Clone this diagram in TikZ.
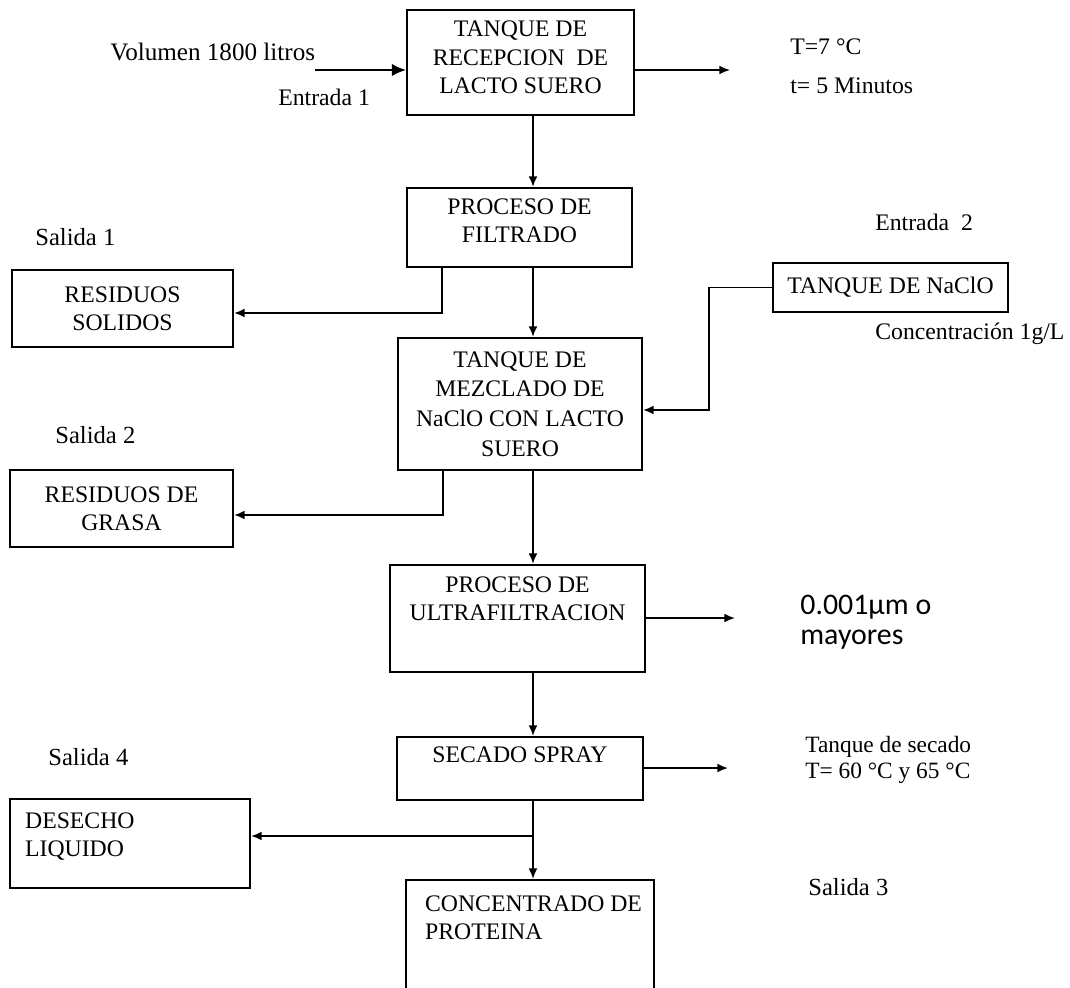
\documentclass[tikz,border=0pt]{standalone}
\usepackage{fontspec}
\setmainfont{Liberation Serif}
\newfontfamily\calib{Carlito}
\usepackage{tikz}
\usetikzlibrary{arrows.meta,positioning}
\def\pu{0.2mm}

\tikzset{
  box/.style={draw, line width=1.2pt, inner sep=2pt, align=center},
  txt/.style={font=\fontsize{13.5}{16}\selectfont, align=center},
  free/.style={font=\fontsize{13.5}{16}\selectfont, anchor=west, inner sep=0pt},
  arr/.style={line width=1pt, -{Latex[length=6pt,width=5pt]}},
  line/.style={line width=1pt}
}

\begin{document}
\begin{tikzpicture}[x=\pu, y=-\pu]
      \clip (0,0) rectangle (1070,987);
      \fill[white] (0,0) rectangle (1070,987);
      % cajas del proceso
      \node[box, txt, minimum width=227*\pu, minimum height=105*\pu, text depth=6pt] (rec) at (520.5,62.5) {TANQUE DE\\RECEPCION\ \ DE\\LACTO SUERO};
      \node[box, txt, minimum width=225*\pu, minimum height=79*\pu, text depth=8pt] (fil) at (519.5,227.5) {PROCESO DE\\FILTRADO};
      \node[box, txt, minimum width=221*\pu, minimum height=77*\pu] (sol) at (122.5,308.5) {RESIDUOS\\SOLIDOS};
      \node[box, txt, minimum width=244*\pu, minimum height=132*\pu, font=\fontsize{13.5}{16.8}\selectfont] (mez) at (520,404) {TANQUE DE\\MEZCLADO DE\\NaClO CON LACTO\\SUERO};
      \node[box, txt, minimum width=235*\pu, minimum height=49*\pu] (nacl) at (890.5,287.5) {TANQUE DE NaClO};
      \node[box, txt, minimum width=223*\pu, minimum height=77*\pu] (gra) at (121.5,508.5) {RESIDUOS DE\\GRASA};
      \node[box, minimum width=255*\pu, minimum height=107*\pu] (ultra) at (517.5,618.5) {};
      \node[box, minimum width=246*\pu, minimum height=63*\pu] (spray) at (520,768.5) {};
      \node[box, minimum width=240*\pu, minimum height=89*\pu] (liq) at (130,843.5) {};
      \node[box, minimum width=248*\pu, minimum height=120*\pu] (prot) at (530,940) {};
      \node[txt, anchor=north, yshift=-7*\pu] (ultraT) at (ultra.north) {PROCESO DE\\ULTRAFILTRACION};
      \node[txt, anchor=north, yshift=-5*\pu] (sprayT) at (spray.north) {SECADO SPRAY};
      \node[txt, align=left, anchor=north west, xshift=10*\pu, yshift=-9*\pu] (liqT) at (liq.north west) {DESECHO\\LIQUIDO};
      \node[txt, align=left, anchor=north west, xshift=14*\pu, yshift=-11*\pu] (protT) at (prot.north west) {CONCENTRADO DE\\PROTEINA};

      % textos sueltos
      \node[free, font=\fontsize{14.3}{16}\selectfont] (vol) at (110,52) {Volumen 1800 litros};
      \node[free] (ent1) at (278,97) {Entrada 1};
      \node[free] (temp1) at (790,47) {T=7 °C};
      \node[free] (time1) at (790,86) {t= 5 Minutos};
      \node[free, font=\fontsize{14}{16}\selectfont] (sal1) at (35,237) {Salida 1};
      \node[free] (ent2) at (875,222) {Entrada\ \ 2};
      \node[free] (conc) at (875,334) {Concentración 1g/L};
      \node[free, font=\fontsize{14}{16}\selectfont] (sal2) at (55,435) {Salida 2};
      \node[free, font=\calib\fontsize{17}{17}\selectfont, align=left] (poro) at (800,622) {0.001µm o\\mayores};
      \node[free, font=\fontsize{13.3}{14.5}\selectfont, align=left] (sec) at (805,760) {Tanque de secado\\T= 60 °C y 65 °C};
      \node[free, font=\fontsize{14}{16}\selectfont] (sal4) at (48,757) {Salida 4};
      \node[free, font=\fontsize{14}{16}\selectfont] (sal3) at (808,887) {Salida 3};

      % puntos de apoyo
      \coordinate (ax) at (533,0);
      \coordinate (in1) at (315,70);
      \coordinate (out1) at (730,70);
      \coordinate (out2) at (735,618);
      \coordinate (out3) at (728,768);
      \coordinate (br1) at (442,313);
      \coordinate (br2) at (443,515);
      \coordinate (jn) at (709,410);
      \coordinate (br4) at (533,836);

      % flechas
      \draw[line width=1pt, -{Latex[length=8pt,width=7pt]}] (in1) -- (in1 -| rec.west);
      \draw[arr] (out1 -| rec.east) -- (out1);
      \draw[arr] (ax |- rec.south) -- (ax |- fil.north);
      \draw[arr] (ax |- fil.south) -- (ax |- mez.north);
      \draw[arr] (ax |- mez.south) -- (ax |- ultra.north);
      \draw[arr] (ax |- ultra.south) -- (ax |- spray.north);
      \draw[arr] (ax |- spray.south) -- (ax |- prot.north);
      \draw[arr] (br1 |- fil.south) -- (br1) -- (br1 -| sol.east);
      \draw[arr] (br2 |- mez.south) -- (br2) -- (br2 -| gra.east);
      \draw[arr] (nacl.west) -| (jn) -- (jn -| mez.east);
      \draw[arr] (out2 -| ultra.east) -- (out2);
      \draw[arr] (out3 -| spray.east) -- (out3);
      \draw[arr] (br4) -- (br4 -| liq.east);
    \end{tikzpicture}
\end{document}
